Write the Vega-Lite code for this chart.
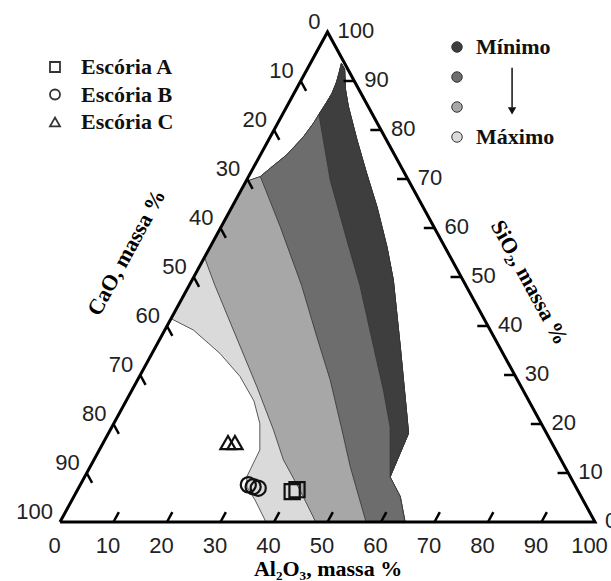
{
  "$schema": "https://vega.github.io/schema/vega-lite/v6.json",
  "width": 535,
  "height": 490,
  "autosize": {"type": "none"},
  "padding": {"left": 60, "top": 32, "right": 16, "bottom": 59},
  "background": "white",
  "config": {"view": {"stroke": null}, "font": "Liberation Sans"},
  "datasets": {
    "regioes": [
      {"reg": "Máximo", "i": 1, "Al": 0, "Si": 69.5},
      {"reg": "Máximo", "i": 2, "Al": 0, "Si": 41.5},
      {"reg": "Máximo", "i": 3, "Al": 5.3, "Si": 39.2},
      {"reg": "Máximo", "i": 4, "Al": 12.7, "Si": 34.4},
      {"reg": "Máximo", "i": 5, "Al": 18.8, "Si": 29.7},
      {"reg": "Máximo", "i": 6, "Al": 23.9, "Si": 24.7},
      {"reg": "Máximo", "i": 7, "Al": 27.3, "Si": 20.1},
      {"reg": "Máximo", "i": 8, "Al": 30.0, "Si": 14.7},
      {"reg": "Máximo", "i": 9, "Al": 30.3, "Si": 9.2},
      {"reg": "Máximo", "i": 10, "Al": 31.4, "Si": 7.1},
      {"reg": "Máximo", "i": 11, "Al": 34.2, "Si": 4.5},
      {"reg": "Máximo", "i": 12, "Al": 38.5, "Si": 0},
      {"reg": "Máximo", "i": 13, "Al": 64.5, "Si": 0},
      {"reg": "Máximo", "i": 14, "Al": 61.0, "Si": 5.2},
      {"reg": "Máximo", "i": 15, "Al": 57.1, "Si": 9.2},
      {"reg": "Máximo", "i": 16, "Al": 56.1, "Si": 18.1},
      {"reg": "Máximo", "i": 17, "Al": 53.7, "Si": 22.2},
      {"reg": "Máximo", "i": 18, "Al": 45.7, "Si": 35.8},
      {"reg": "Máximo", "i": 19, "Al": 37.6, "Si": 49.4},
      {"reg": "Máximo", "i": 20, "Al": 33.0, "Si": 56.2},
      {"reg": "Máximo", "i": 21, "Al": 27.1, "Si": 64.3},
      {"reg": "Máximo", "i": 22, "Al": 21.7, "Si": 71.2},
      {"reg": "Máximo", "i": 23, "Al": 16.5, "Si": 78.0},
      {"reg": "Máximo", "i": 24, "Al": 11.5, "Si": 84.8},
      {"reg": "Máximo", "i": 25, "Al": 9.2, "Si": 88.3},
      {"reg": "Máximo", "i": 26, "Al": 7.0, "Si": 92.4},
      {"reg": "Máximo", "i": 27, "Al": 5.8, "Si": 93.6},
      {"reg": "Máximo", "i": 28, "Al": 6.3, "Si": 91.8},
      {"reg": "Máximo", "i": 29, "Al": 6.8, "Si": 89.8},
      {"reg": "Máximo", "i": 30, "Al": 7.1, "Si": 87.5},
      {"reg": "Máximo", "i": 31, "Al": 7.0, "Si": 85.5},
      {"reg": "Máximo", "i": 32, "Al": 6.8, "Si": 83.2},
      {"reg": "Máximo", "i": 33, "Al": 6.7, "Si": 81.5},
      {"reg": "Máximo", "i": 34, "Al": 6.2, "Si": 78.6},
      {"reg": "Máximo", "i": 35, "Al": 4.9, "Si": 74.9},
      {"reg": "Máximo", "i": 36, "Al": 3.2, "Si": 72.2},
      {"reg": "Máximo", "i": 37, "Al": 2.2, "Si": 70.5},
      {"reg": "Máximo", "i": 38, "Al": 0, "Si": 69.5},

      {"reg": "n3", "i": 1, "Al": 0, "Si": 69.5},
      {"reg": "n3", "i": 2, "Al": 0, "Si": 54},
      {"reg": "n3", "i": 3, "Al": 4.8, "Si": 48.3},
      {"reg": "n3", "i": 4, "Al": 12.8, "Si": 39.2},
      {"reg": "n3", "i": 5, "Al": 23.0, "Si": 27.6},
      {"reg": "n3", "i": 6, "Al": 30.5, "Si": 18.8},
      {"reg": "n3", "i": 7, "Al": 35.4, "Si": 12.7},
      {"reg": "n3", "i": 8, "Al": 41.6, "Si": 6.5},
      {"reg": "n3", "i": 9, "Al": 47.8, "Si": 0},
      {"reg": "n3", "i": 10, "Al": 64.5, "Si": 0},
      {"reg": "n3", "i": 11, "Al": 61.0, "Si": 5.2},
      {"reg": "n3", "i": 12, "Al": 57.1, "Si": 9.2},
      {"reg": "n3", "i": 13, "Al": 56.1, "Si": 18.1},
      {"reg": "n3", "i": 14, "Al": 53.7, "Si": 22.2},
      {"reg": "n3", "i": 15, "Al": 45.7, "Si": 35.8},
      {"reg": "n3", "i": 16, "Al": 37.6, "Si": 49.4},
      {"reg": "n3", "i": 17, "Al": 33.0, "Si": 56.2},
      {"reg": "n3", "i": 18, "Al": 27.1, "Si": 64.3},
      {"reg": "n3", "i": 19, "Al": 21.7, "Si": 71.2},
      {"reg": "n3", "i": 20, "Al": 16.5, "Si": 78.0},
      {"reg": "n3", "i": 21, "Al": 11.5, "Si": 84.8},
      {"reg": "n3", "i": 22, "Al": 9.2, "Si": 88.3},
      {"reg": "n3", "i": 23, "Al": 7.0, "Si": 92.4},
      {"reg": "n3", "i": 24, "Al": 5.8, "Si": 93.6},
      {"reg": "n3", "i": 25, "Al": 6.3, "Si": 91.8},
      {"reg": "n3", "i": 26, "Al": 6.8, "Si": 89.8},
      {"reg": "n3", "i": 27, "Al": 7.1, "Si": 87.5},
      {"reg": "n3", "i": 28, "Al": 7.0, "Si": 85.5},
      {"reg": "n3", "i": 29, "Al": 6.8, "Si": 83.2},
      {"reg": "n3", "i": 30, "Al": 6.7, "Si": 81.5},
      {"reg": "n3", "i": 31, "Al": 6.2, "Si": 78.6},
      {"reg": "n3", "i": 32, "Al": 4.9, "Si": 74.9},
      {"reg": "n3", "i": 33, "Al": 3.2, "Si": 72.2},
      {"reg": "n3", "i": 34, "Al": 2.2, "Si": 70.5},
      {"reg": "n3", "i": 35, "Al": 0, "Si": 69.5},

      {"reg": "n2", "i": 1, "Al": 2.2, "Si": 70.5},
      {"reg": "n2", "i": 2, "Al": 11.0, "Si": 60.3},
      {"reg": "n2", "i": 3, "Al": 21.0, "Si": 48.3},
      {"reg": "n2", "i": 4, "Al": 29.1, "Si": 37.8},
      {"reg": "n2", "i": 5, "Al": 36.0, "Si": 29.0},
      {"reg": "n2", "i": 6, "Al": 43.3, "Si": 18.8},
      {"reg": "n2", "i": 7, "Al": 48.6, "Si": 11.3},
      {"reg": "n2", "i": 8, "Al": 57.2, "Si": 0},
      {"reg": "n2", "i": 9, "Al": 64.5, "Si": 0},
      {"reg": "n2", "i": 10, "Al": 61.0, "Si": 5.2},
      {"reg": "n2", "i": 11, "Al": 57.1, "Si": 9.2},
      {"reg": "n2", "i": 12, "Al": 56.1, "Si": 18.1},
      {"reg": "n2", "i": 13, "Al": 53.7, "Si": 22.2},
      {"reg": "n2", "i": 14, "Al": 45.7, "Si": 35.8},
      {"reg": "n2", "i": 15, "Al": 37.6, "Si": 49.4},
      {"reg": "n2", "i": 16, "Al": 33.0, "Si": 56.2},
      {"reg": "n2", "i": 17, "Al": 27.1, "Si": 64.3},
      {"reg": "n2", "i": 18, "Al": 21.7, "Si": 71.2},
      {"reg": "n2", "i": 19, "Al": 16.5, "Si": 78.0},
      {"reg": "n2", "i": 20, "Al": 11.5, "Si": 84.8},
      {"reg": "n2", "i": 21, "Al": 9.2, "Si": 88.3},
      {"reg": "n2", "i": 22, "Al": 7.0, "Si": 92.4},
      {"reg": "n2", "i": 23, "Al": 5.8, "Si": 93.6},
      {"reg": "n2", "i": 24, "Al": 6.3, "Si": 91.8},
      {"reg": "n2", "i": 25, "Al": 6.8, "Si": 89.8},
      {"reg": "n2", "i": 26, "Al": 7.1, "Si": 87.5},
      {"reg": "n2", "i": 27, "Al": 7.0, "Si": 85.5},
      {"reg": "n2", "i": 28, "Al": 6.8, "Si": 83.2},
      {"reg": "n2", "i": 29, "Al": 6.7, "Si": 81.5},
      {"reg": "n2", "i": 30, "Al": 6.2, "Si": 78.6},
      {"reg": "n2", "i": 31, "Al": 4.9, "Si": 74.9},
      {"reg": "n2", "i": 32, "Al": 3.2, "Si": 72.2},
      {"reg": "n2", "i": 33, "Al": 2.2, "Si": 70.5},

      {"reg": "Mínimo", "i": 1, "Al": 6.8, "Si": 83.2},
      {"reg": "Mínimo", "i": 2, "Al": 15.6, "Si": 69.8},
      {"reg": "Mínimo", "i": 3, "Al": 24.8, "Si": 57.6},
      {"reg": "Mínimo", "i": 4, "Al": 31.9, "Si": 48.3},
      {"reg": "Mínimo", "i": 5, "Al": 40.7, "Si": 35.8},
      {"reg": "Mínimo", "i": 6, "Al": 47.0, "Si": 26.9},
      {"reg": "Mínimo", "i": 7, "Al": 52.0, "Si": 19.4},
      {"reg": "Mínimo", "i": 8, "Al": 57.1, "Si": 9.2},
      {"reg": "Mínimo", "i": 9, "Al": 56.1, "Si": 18.1},
      {"reg": "Mínimo", "i": 10, "Al": 53.7, "Si": 22.2},
      {"reg": "Mínimo", "i": 11, "Al": 45.7, "Si": 35.8},
      {"reg": "Mínimo", "i": 12, "Al": 37.6, "Si": 49.4},
      {"reg": "Mínimo", "i": 13, "Al": 33.0, "Si": 56.2},
      {"reg": "Mínimo", "i": 14, "Al": 27.1, "Si": 64.3},
      {"reg": "Mínimo", "i": 15, "Al": 21.7, "Si": 71.2},
      {"reg": "Mínimo", "i": 16, "Al": 16.5, "Si": 78.0},
      {"reg": "Mínimo", "i": 17, "Al": 11.5, "Si": 84.8},
      {"reg": "Mínimo", "i": 18, "Al": 9.2, "Si": 88.3},
      {"reg": "Mínimo", "i": 19, "Al": 7.0, "Si": 92.4},
      {"reg": "Mínimo", "i": 20, "Al": 5.8, "Si": 93.6},
      {"reg": "Mínimo", "i": 21, "Al": 6.3, "Si": 91.8},
      {"reg": "Mínimo", "i": 22, "Al": 6.8, "Si": 89.8},
      {"reg": "Mínimo", "i": 23, "Al": 7.1, "Si": 87.5},
      {"reg": "Mínimo", "i": 24, "Al": 7.0, "Si": 85.5},
      {"reg": "Mínimo", "i": 25, "Al": 6.8, "Si": 83.2}
    ],
    "triangulo": [
      {"i": 1, "Al": 0, "Si": 0},
      {"i": 2, "Al": 100, "Si": 0},
      {"i": 3, "Al": 0, "Si": 100},
      {"i": 4, "Al": 0, "Si": 0}
    ],
    "marcas": [
      {"Al": 10, "Si": 0, "Al2": 10, "Si2": 2},
      {"Al": 20, "Si": 0, "Al2": 20, "Si2": 2},
      {"Al": 30, "Si": 0, "Al2": 30, "Si2": 2},
      {"Al": 40, "Si": 0, "Al2": 40, "Si2": 2},
      {"Al": 50, "Si": 0, "Al2": 50, "Si2": 2},
      {"Al": 60, "Si": 0, "Al2": 60, "Si2": 2},
      {"Al": 70, "Si": 0, "Al2": 70, "Si2": 2},
      {"Al": 80, "Si": 0, "Al2": 80, "Si2": 2},
      {"Al": 90, "Si": 0, "Al2": 90, "Si2": 2},
      {"Al": 0, "Si": 90, "Al2": 2, "Si2": 88},
      {"Al": 0, "Si": 80, "Al2": 2, "Si2": 78},
      {"Al": 0, "Si": 70, "Al2": 2, "Si2": 68},
      {"Al": 0, "Si": 60, "Al2": 2, "Si2": 58},
      {"Al": 0, "Si": 50, "Al2": 2, "Si2": 48},
      {"Al": 0, "Si": 40, "Al2": 2, "Si2": 38},
      {"Al": 0, "Si": 30, "Al2": 2, "Si2": 28},
      {"Al": 0, "Si": 20, "Al2": 2, "Si2": 18},
      {"Al": 0, "Si": 10, "Al2": 2, "Si2": 8},
      {"Al": 10, "Si": 90, "Al2": 8, "Si2": 90},
      {"Al": 20, "Si": 80, "Al2": 18, "Si2": 80},
      {"Al": 30, "Si": 70, "Al2": 28, "Si2": 70},
      {"Al": 40, "Si": 60, "Al2": 38, "Si2": 60},
      {"Al": 50, "Si": 50, "Al2": 48, "Si2": 50},
      {"Al": 60, "Si": 40, "Al2": 58, "Si2": 40},
      {"Al": 70, "Si": 30, "Al2": 68, "Si2": 30},
      {"Al": 80, "Si": 20, "Al2": 78, "Si2": 20},
      {"Al": 90, "Si": 10, "Al2": 88, "Si2": 10}
    ],
    "rotulosCaO": [
      {"t": "0", "Al": 0, "Si": 100},
      {"t": "10", "Al": 0, "Si": 90},
      {"t": "20", "Al": 0, "Si": 80},
      {"t": "30", "Al": 0, "Si": 70},
      {"t": "40", "Al": 0, "Si": 60},
      {"t": "50", "Al": 0, "Si": 50},
      {"t": "60", "Al": 0, "Si": 40},
      {"t": "70", "Al": 0, "Si": 30},
      {"t": "80", "Al": 0, "Si": 20},
      {"t": "90", "Al": 0, "Si": 10},
      {"t": "100", "Al": 0, "Si": 0}
    ],
    "rotulosSiO2": [
      {"t": "100", "Al": 0, "Si": 100},
      {"t": "90", "Al": 10, "Si": 90},
      {"t": "80", "Al": 20, "Si": 80},
      {"t": "70", "Al": 30, "Si": 70},
      {"t": "60", "Al": 40, "Si": 60},
      {"t": "50", "Al": 50, "Si": 50},
      {"t": "40", "Al": 60, "Si": 40},
      {"t": "30", "Al": 70, "Si": 30},
      {"t": "20", "Al": 80, "Si": 20},
      {"t": "10", "Al": 90, "Si": 10},
      {"t": "0", "Al": 100, "Si": 0}
    ],
    "escorias": [
      {"escoria": "Escória A", "Al": 40.3, "Si": 6.2},
      {"escoria": "Escória A", "Al": 41.0, "Si": 6.6},
      {"escoria": "Escória B", "Al": 31.4, "Si": 7.6},
      {"escoria": "Escória B", "Al": 32.5, "Si": 7.2},
      {"escoria": "Escória B", "Al": 33.6, "Si": 6.9},
      {"escoria": "Escória C", "Al": 23.3, "Si": 16.2},
      {"escoria": "Escória C", "Al": 24.6, "Si": 16.2}
    ],
    "seta": [
      {"x": 84.5, "y": 92.7, "y2": 84.6}
    ],
    "ponta": [
      {"x": 84.5, "y": 83.9}
    ]
  },
  "resolve": {"axis": {"x": "independent", "y": "independent"}},
  "layer": [
    {
      "data": {"name": "regioes"},
      "transform": [{"calculate": "datum.Al + datum.Si / 2", "as": "px"}],
      "encoding": {
        "x": {"field": "px", "type": "quantitative", "scale": {"domain": [0, 100], "nice": false}, "axis": null},
        "y": {"field": "Si", "type": "quantitative", "scale": {"domain": [0, 100], "nice": false}, "axis": null},
        "order": {"field": "i", "type": "quantitative"},
        "fill": {
          "field": "reg", "type": "nominal",
          "scale": {"domain": ["Mínimo", "n2", "n3", "Máximo"], "range": ["#3e3e3e", "#6d6d6d", "#a7a7a7", "#dadada"]},
          "legend": {
            "orient": "none", "legendX": 386, "legendY": 4, "title": null,
            "symbolType": "circle", "symbolSize": 110, "symbolStrokeWidth": 1,
            "labelFont": "Liberation Serif", "labelFontWeight": "bold", "labelFontSize": 22, "labelColor": "#111",
            "labelOffset": 8, "rowPadding": 8, "padding": 0,
            "labelExpr": "datum.label == 'n2' || datum.label == 'n3' ? '' : datum.label"
          }
        }
      },
      "layer": [
        {"transform": [{"filter": "datum.reg === 'Máximo'"}], "mark": {"type": "line", "stroke": "#333", "strokeWidth": 0.8}},
        {"transform": [{"filter": "datum.reg === 'n3'"}], "mark": {"type": "line", "stroke": "#333", "strokeWidth": 0.8}},
        {"transform": [{"filter": "datum.reg === 'n2'"}], "mark": {"type": "line", "stroke": "#333", "strokeWidth": 0.8}},
        {"transform": [{"filter": "datum.reg === 'Mínimo'"}], "mark": {"type": "line", "stroke": "#333", "strokeWidth": 0.8}}
      ]
    },
    {
      "data": {"name": "triangulo"},
      "transform": [{"calculate": "datum.Al + datum.Si / 2", "as": "px"}],
      "mark": {"type": "line", "stroke": "#000", "strokeWidth": 3},
      "encoding": {
        "x": {
          "field": "px", "type": "quantitative", "scale": {"domain": [0, 100], "nice": false},
          "axis": {
            "orient": "bottom",
            "values": [0, 10, 20, 30, 40, 50, 60, 70, 80, 90, 100],
            "domain": false, "ticks": false, "tickSize": 0, "grid": false,
            "labelFont": "Liberation Sans", "labelFontSize": 22, "labelColor": "#222",
            "labelPadding": 13, "labelOffset": -6, "labelFlush": false, "labelOverlap": false,
            "title": "Al₂O₃, massa %", "titleFont": "Liberation Serif", "titleFontWeight": "bold",
            "titleFontSize": 22, "titleColor": "#000", "titlePadding": 2
          }
        },
        "y": {
          "field": "Si", "type": "quantitative", "scale": {"domain": [0, 100], "nice": false},
          "axis": {
            "orient": "left", "domain": false, "ticks": false, "labels": false, "grid": false,
            "title": "CaO, massa %", "titleFont": "Liberation Serif", "titleFontWeight": "bold",
            "titleFontSize": 22, "titleColor": "#000", "titleAngle": -61.4,
            "titleX": 66, "titleY": 220, "titleAlign": "center", "titleBaseline": "middle"
          }
        },
        "order": {"field": "i", "type": "quantitative"}
      }
    },
    {
      "data": {"name": "marcas"},
      "transform": [
        {"calculate": "datum.Al + datum.Si / 2", "as": "px"},
        {"calculate": "datum.Al2 + datum.Si2 / 2", "as": "px2"}
      ],
      "mark": {"type": "rule", "stroke": "#000", "strokeWidth": 2.5},
      "encoding": {
        "x": {"field": "px", "type": "quantitative", "scale": {"domain": [0, 100], "nice": false}, "axis": null},
        "x2": {"field": "px2"},
        "y": {
          "field": "Si", "type": "quantitative", "scale": {"domain": [0, 100], "nice": false},
          "axis": {
            "orient": "right", "domain": false, "ticks": false, "labels": false, "grid": false,
            "title": "SiO₂, massa %", "titleFont": "Liberation Serif", "titleFontWeight": "bold",
            "titleFontSize": 22, "titleColor": "#000", "titleAngle": 61.4,
            "titleX": -66, "titleY": 250, "titleAlign": "center", "titleBaseline": "middle"
          }
        },
        "y2": {"field": "Si2"}
      }
    },
    {
      "data": {"name": "rotulosCaO"},
      "transform": [{"calculate": "datum.Al + datum.Si / 2", "as": "px"}],
      "mark": {"type": "text", "align": "right", "baseline": "middle", "dx": -7, "dy": -10, "font": "Liberation Sans", "fontSize": 22, "fill": "#222"},
      "encoding": {
        "x": {"field": "px", "type": "quantitative", "scale": {"domain": [0, 100], "nice": false}, "axis": null},
        "y": {"field": "Si", "type": "quantitative", "scale": {"domain": [0, 100], "nice": false}, "axis": null},
        "text": {"field": "t"}
      }
    },
    {
      "data": {"name": "rotulosSiO2"},
      "transform": [{"calculate": "datum.Al + datum.Si / 2", "as": "px"}],
      "mark": {"type": "text", "align": "left", "baseline": "middle", "dx": 10, "dy": -1, "font": "Liberation Sans", "fontSize": 22, "fill": "#222"},
      "encoding": {
        "x": {"field": "px", "type": "quantitative", "scale": {"domain": [0, 100], "nice": false}, "axis": null},
        "y": {"field": "Si", "type": "quantitative", "scale": {"domain": [0, 100], "nice": false}, "axis": null},
        "text": {"field": "t"}
      }
    },
    {
      "data": {"name": "escorias"},
      "transform": [{"calculate": "datum.Al + datum.Si / 2", "as": "px"}],
      "mark": {"type": "point", "filled": false, "color": "#111", "strokeWidth": 2.2, "size": 230, "opacity": 1},
      "encoding": {
        "x": {"field": "px", "type": "quantitative", "scale": {"domain": [0, 100], "nice": false}, "axis": null},
        "y": {"field": "Si", "type": "quantitative", "scale": {"domain": [0, 100], "nice": false}, "axis": null},
        "shape": {
          "field": "escoria", "type": "nominal",
          "scale": {"domain": ["Escória A", "Escória B", "Escória C"], "range": ["square", "circle", "triangle-up"]},
          "legend": {
            "orient": "none", "legendX": -16, "legendY": 24, "title": null,
            "symbolSize": 100, "symbolStrokeWidth": 1.8, "symbolStrokeColor": "#333", "symbolOpacity": 1,
            "labelFont": "Liberation Serif", "labelFontWeight": "bold", "labelFontSize": 22, "labelColor": "#111",
            "labelOffset": 15, "rowPadding": 5.5, "padding": 0
          }
        }
      }
    },
    {
      "data": {"name": "seta"},
      "mark": {"type": "rule", "stroke": "#111", "strokeWidth": 1.5},
      "encoding": {
        "x": {"field": "x", "type": "quantitative", "scale": {"domain": [0, 100], "nice": false}, "axis": null},
        "y": {"field": "y", "type": "quantitative", "scale": {"domain": [0, 100], "nice": false}, "axis": null},
        "y2": {"field": "y2"}
      }
    },
    {
      "data": {"name": "ponta"},
      "mark": {"type": "point", "shape": "triangle-down", "filled": true, "color": "#111", "size": 70, "opacity": 1},
      "encoding": {
        "x": {"field": "x", "type": "quantitative", "scale": {"domain": [0, 100], "nice": false}, "axis": null},
        "y": {"field": "y", "type": "quantitative", "scale": {"domain": [0, 100], "nice": false}, "axis": null}
      }
    }
  ]
}
